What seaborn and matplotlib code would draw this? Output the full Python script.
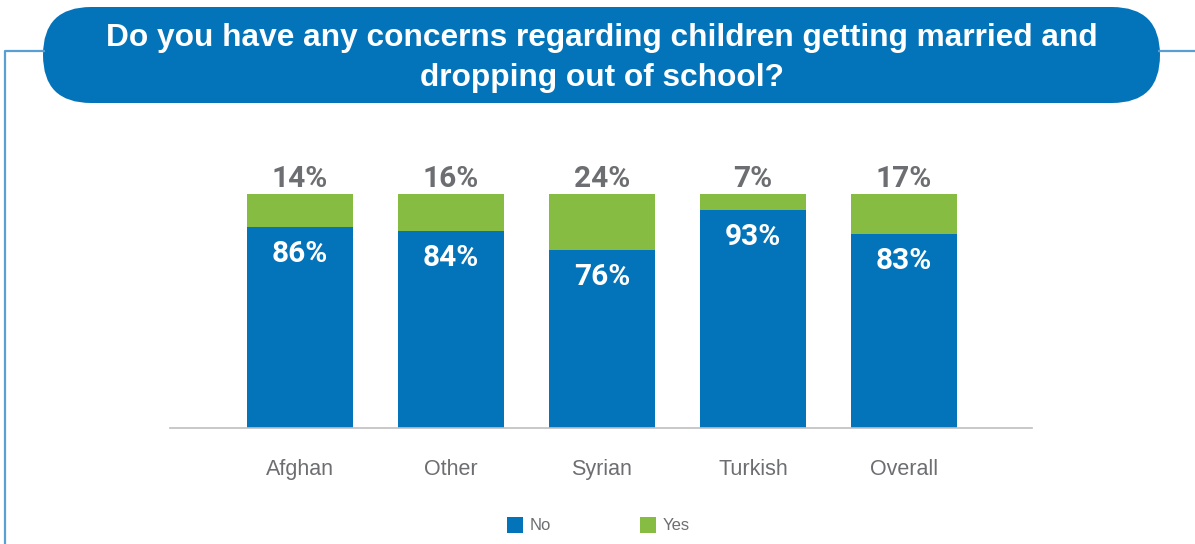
import matplotlib
matplotlib.use("Agg")
import matplotlib.pyplot as plt
from matplotlib.patches import FancyBboxPatch
import pandas as pd
import seaborn as sns

categories = ["Afghan", "Other", "Syrian", "Turkish", "Overall"]
no_values = [86, 84, 76, 93, 83]
yes_values = [14, 16, 24, 7, 17]
title_text = "Do you have any concerns regarding children getting married and\ndropping out of school?"
legend_labels = ["No", "Yes"]

BLUE = "#0474BA"
GREEN = "#85BC41"
GREY = "#6D6E71"
FRAME = "#5A9FD4"

W, H = 1195, 544
sns.set_theme(style="white")
plt.rcParams["font.family"] = ["Liberation Sans", "DejaVu Sans"]

df = pd.DataFrame({"group": categories, "No": no_values, "Yes": yes_values})
df["total"] = df["No"] + df["Yes"]

fig = plt.figure(figsize=(W / 100, H / 100), dpi=100)

# Background layer in pixel coordinates: frame lines and the title pill
bg = fig.add_axes([0, 0, 1, 1], zorder=0)
bg.set_xlim(0, W)
bg.set_ylim(H, 0)
bg.axis("off")
bg.plot([5, 5, 45], [H + 5, 51, 51], color=FRAME, lw=1.6, solid_capstyle="butt")
bg.plot([1158, W + 5], [51, 51], color=FRAME, lw=1.6, solid_capstyle="butt")
pill = FancyBboxPatch((43, 7), 1160 - 43, 96,
                      boxstyle="round,pad=0,rounding_size=48",
                      facecolor=BLUE, edgecolor="none")
bg.add_patch(pill)
bg.text(602, 58, title_text, ha="center", va="center", color="white",
        fontsize=22.8, fontweight="bold", linespacing=1.45)


def px_rect(left, top, right, bottom):
    return [left / W, 1 - bottom / H, (right - left) / W, (bottom - top) / H]


ax = fig.add_axes(px_rect(170, 194, 1032, 428), zorder=1)
ax.patch.set_alpha(0)

sns.barplot(data=df, x="group", y="total", color=GREEN, width=0.70,
            saturation=1, linewidth=0, ax=ax, label="Yes")
sns.barplot(data=df, x="group", y="No", color=BLUE, width=0.70,
            saturation=1, linewidth=0, ax=ax, label="No")

ax.set_xlim(-0.861, 4.848)
ax.set_ylim(0, 100)
ax.set_xlabel("")
ax.set_ylabel("")
ax.set_yticks([])
ax.tick_params(axis="x", length=0, pad=22, labelsize=15.5, labelcolor=GREY)
for side in ["left", "right", "top"]:
    ax.spines[side].set_visible(False)
ax.spines["bottom"].set_color("#BFBFBF")
ax.spines["bottom"].set_linewidth(1.2)
if ax.get_legend():
    ax.get_legend().remove()

for i, (n, y) in enumerate(zip(no_values, yes_values)):
    ax.annotate(f"{y}%", (i, n + y), xytext=(0, 15), textcoords="offset pixels",
                ha="center", va="center", fontsize=21.5, fontweight="bold",
                color=GREY, family=["Roboto", "DejaVu Sans"], annotation_clip=False)
    ax.annotate(f"{n}%", (i, n), xytext=(0, -27), textcoords="offset pixels",
                ha="center", va="center", fontsize=21.5, fontweight="bold",
                color="white", family=["Roboto", "DejaVu Sans"])

# Legend
for (x0, lab, col) in [(507, legend_labels[0], BLUE), (640, legend_labels[1], GREEN)]:
    bg.add_patch(plt.Rectangle((x0, 517), 16, 16, facecolor=col, edgecolor="none"))
    bg.text(x0 + 23, 526, lab, ha="left", va="center", fontsize=12, color=GREY)

fig.savefig("out.png", dpi=100)
